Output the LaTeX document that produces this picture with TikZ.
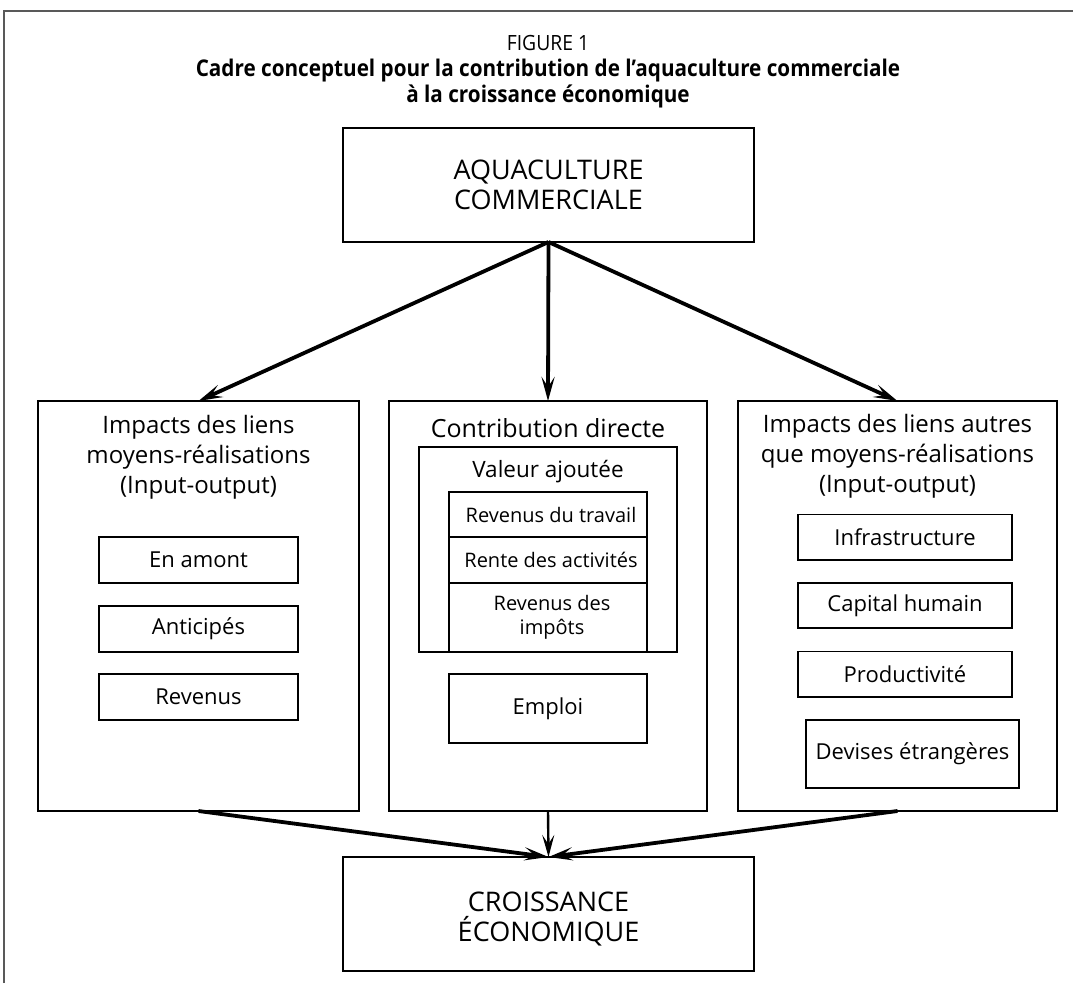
\documentclass[tikz,border=0pt]{standalone}
\usepackage{fontspec}
\setmainfont{Open Sans}
\usetikzlibrary{arrows.meta}
\begin{document}
\begin{tikzpicture}[x=1pt,y=-1pt,
  box/.style={draw, line width=1.5pt, inner sep=0pt, outer sep=0pt, align=center},
  txt/.style={inner sep=0pt, align=center},
  arr/.style={line width=3.8pt, arrows={-Stealth[length=24pt,width=13pt,inset=10pt]}},
  thinarr/.style={line width=2.4pt, arrows={-Stealth[length=22pt,width=12pt,inset=9pt]}},
  big/.style={font=\fontsize{27}{30}\selectfont},
  coltitle/.style={font=\fontsize{24}{30}\selectfont},
  smalltxt/.style={font=\fontsize{22}{26}\selectfont},
  rowtxt/.style={font=\fontsize{20}{24}\selectfont},
  titlefont/.style={font=\bfseries\fontsize{23}{26}\selectfont},
]
\useasboundingbox (0,0) rectangle (1073,983);
\fill[white] (0,0) rectangle (1073,983);
\draw[black!65, line width=1.3pt] (4,983) -- (4,11) -- (1073,11);

% titles
\node[txt, anchor=base, font=\fontsize{21}{24}\selectfont] (fig) at (548,50) {\scalebox{0.92}[1]{FIGURE 1}};
\node[txt, anchor=base, titlefont] (t1) at (548,76) {\scalebox{0.9}[1]{Cadre conceptuel pour la contribution de l’aquaculture commerciale}};
\node[txt, anchor=base, titlefont] (t2) at (548,102) {\scalebox{0.9}[1]{à la croissance économique}};

% main boxes
\node[box, big, minimum width=411pt, minimum height=114pt] (top) at (548.5,185) {AQUACULTURE\\COMMERCIALE};
\node[box, minimum width=321pt, minimum height=410pt] (left) at (198.5,606) {};
\node[box, minimum width=318pt, minimum height=410pt] (mid) at (548,606) {};
\node[box, minimum width=319pt, minimum height=410pt] (right) at (897.5,606) {};
\node[box, minimum width=411pt, minimum height=114pt] (bot) at (548.5,914) {};
\node[txt, big] (bottxt) at (548.5,919) {CROISSANCE\\ÉCONOMIQUE};

% left column
\node[txt, coltitle] (lefttitle) at (198.5,457) {Impacts des liens\\moyens-réalisations\\(Input-output)};
\node[box, smalltxt, minimum width=199pt, minimum height=46pt] (amont) at (198.5,560) {En amont};
\node[box, smalltxt, minimum width=199pt, minimum height=46pt] (antic) at (198.5,629) {Anticipés};
\node[box, smalltxt, minimum width=199pt, minimum height=46pt] (reven) at (198.5,697) {Revenus};

% middle column
\node[txt, font=\fontsize{25}{30}\selectfont] (midtitle) at (548,428) {Contribution directe};
\node[box, minimum width=258pt, minimum height=205pt] (valeur) at (548,549.5) {};
\node[txt, font=\fontsize{22.5}{26}\selectfont] (valtitle) at (548,472) {Valeur ajoutée};
\node[box, rowtxt, minimum width=198pt, minimum height=45pt] (row1) at (548,514.5) {\hspace{6pt}Revenus du travail};
\node[box, rowtxt, minimum width=198pt, minimum height=46pt] (row2) at (548,560) {\hspace{6pt}Rente des activités};
\node[box, rowtxt, minimum width=198pt, minimum height=69pt] (row3) at (548,617.5) {\hspace{8pt}Revenus des\\\hspace{8pt}impôts};
\node[box, smalltxt, minimum width=198pt, minimum height=69pt] (emploi) at (548,708.5) {Emploi};

% right column
\node[txt, coltitle] (righttitle) at (897.5,456) {Impacts des liens autres\\que moyens-réalisations\\(Input-output)};
\node[box, smalltxt, minimum width=214pt, minimum height=45.5pt] (infra) at (905,537) {Infrastructure};
\node[box, smalltxt, minimum width=214pt, minimum height=45pt] (capital) at (905,605.5) {Capital humain};
\node[box, smalltxt, minimum width=214pt, minimum height=45.5pt] (prod) at (905,674) {Productivité};
\node[box, smalltxt, minimum width=213pt, minimum height=68pt] (devises) at (912.5,754) {Devises étrangères};

% connectors
\draw[arr] (top.south) -- (left.north);
\draw[arr] (top.south) -- (mid.north);
\draw[arr] (top.south) -- (right.north);
\draw[arr] (left.south) -- (bot.north);
\draw[thinarr] (mid.south) -- (bot.north);
\draw[arr] (right.south) -- (bot.north);
\end{tikzpicture}
\end{document}
